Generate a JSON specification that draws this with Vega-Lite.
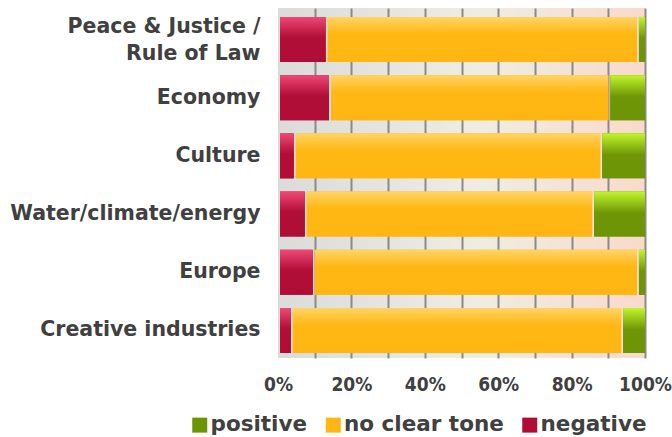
{
  "$schema": "https://vega.github.io/schema/vega-lite/v6.json",
  "width": 367,
  "height": 350,
  "autosize": {"type": "none"},
  "padding": {"left": 278, "top": 8, "right": 27, "bottom": 79},
  "background": "#ffffff",
  "config": {
    "view": {
      "stroke": null,
      "fill": {"gradient": "linear", "x1": 0, "y1": 0, "x2": 1, "y2": 0,
        "stops": [{"offset": 0, "color": "#dbdbdb"}, {"offset": 0.55, "color": "#efede3"}, {"offset": 1, "color": "#f9dacb"}]}
    },
    "axisY": {
      "labelFont": "DejaVu Sans", "labelFontWeight": "bold", "labelFontSize": 20.5,
      "labelColor": "#404040", "labelPadding": 18, "domain": false, "ticks": false,
      "grid": false, "labelLineHeight": 27, "labelLimit": 300
    },
    "axisX": {
      "labelFont": "DejaVu Sans Condensed", "labelFontWeight": "bold", "labelFontSize": 19,
      "labelColor": "#404040", "labelPadding": 17, "domain": false, "ticks": false,
      "grid": true, "gridColor": "#8a8a8a", "gridWidth": 2,
      "gridOpacity": {"condition": {"test": "datum.value == 0", "value": 0}, "value": 1},
      "values": [0, 20, 40, 60, 80, 100], "labelExpr": "datum.value + '%'",
      "labelFlush": false
    },
    "legend": {
      "labelFont": "DejaVu Sans", "labelFontWeight": "bold", "labelFontSize": 21.5,
      "labelColor": "#404040"
    }
  },
  "data": {
    "values": [
      {"category": "Peace & Justice / Rule of Law", "tone": "negative", "value": 13.0},
      {"category": "Peace & Justice / Rule of Law", "tone": "no clear tone", "value": 84.8},
      {"category": "Peace & Justice / Rule of Law", "tone": "positive", "value": 2.2},
      {"category": "Economy", "tone": "negative", "value": 13.9},
      {"category": "Economy", "tone": "no clear tone", "value": 76.1},
      {"category": "Economy", "tone": "positive", "value": 10.0},
      {"category": "Culture", "tone": "negative", "value": 4.3},
      {"category": "Culture", "tone": "no clear tone", "value": 83.5},
      {"category": "Culture", "tone": "positive", "value": 12.2},
      {"category": "Water/climate/energy", "tone": "negative", "value": 7.3},
      {"category": "Water/climate/energy", "tone": "no clear tone", "value": 78.3},
      {"category": "Water/climate/energy", "tone": "positive", "value": 14.4},
      {"category": "Europe", "tone": "negative", "value": 9.5},
      {"category": "Europe", "tone": "no clear tone", "value": 88.3},
      {"category": "Europe", "tone": "positive", "value": 2.2},
      {"category": "Creative industries", "tone": "negative", "value": 3.5},
      {"category": "Creative industries", "tone": "no clear tone", "value": 90.0},
      {"category": "Creative industries", "tone": "positive", "value": 6.5}
    ]
  },
  "transform": [
    {"stack": "value", "groupby": ["category"], "sort": [{"field": "tone", "order": "ascending"}], "as": ["x0", "x1"]}
  ],
  "encoding": {
    "y": {
      "field": "category", "type": "nominal", "title": null,
      "sort": ["Peace & Justice / Rule of Law", "Economy", "Culture", "Water/climate/energy", "Europe", "Creative industries"],
      "scale": {"paddingInner": 0.227, "paddingOuter": 0.12, "align": 0.64},
      "axis": {
        "labelExpr": "datum.value == 'Peace & Justice / Rule of Law' ? ['Peace & Justice /', 'Rule of Law\u00a0\u00a0\u00a0\u00a0\u00a0'] : datum.value",
        "labelOffset": {"condition": {"test": "datum.value == 'Peace & Justice / Rule of Law'", "value": -12.5}, "value": 0}
      }
    },
    "x": {"field": "x0", "type": "quantitative", "title": null, "scale": {"domain": [0, 100], "nice": false}},
    "x2": {"field": "x1"}
  },
  "layer": [
    {
      "mark": {"type": "bar", "xOffset": 2},
      "encoding": {
        "color": {
          "field": "tone", "type": "nominal",
          "scale": {"domain": ["positive", "no clear tone", "negative"], "range": ["#6c9405", "#ffb612", "#af0d36"]},
          "legend": {
            "title": null, "orient": "none", "direction": "horizontal", "legendX": -89, "legendY": 406,
            "symbolType": "square", "symbolSize": 225, "symbolStrokeWidth": 0, "symbolOpacity": 1,
            "labelOffset": 0, "columnPadding": 14.5
          }
        }
      }
    },
    {
      "transform": [{"filter": {"field": "tone", "equal": "negative"}}],
      "mark": {"type": "bar", "xOffset": 2, "fill": {"gradient": "linear", "x1": 0, "y1": 0, "x2": 0, "y2": 1,
        "stops": [{"offset": 0, "color": "#f04875"}, {"offset": 0.45, "color": "#b10e38"}, {"offset": 1, "color": "#af0d36"}]}}
    },
    {
      "transform": [{"filter": {"field": "tone", "equal": "no clear tone"}}],
      "mark": {"type": "bar", "xOffset": 2, "fill": {"gradient": "linear", "x1": 0, "y1": 0, "x2": 0, "y2": 1,
        "stops": [{"offset": 0, "color": "#ffd466"}, {"offset": 0.38, "color": "#ffb713"}, {"offset": 1, "color": "#ffb612"}]}}
    },
    {
      "transform": [{"filter": {"field": "tone", "equal": "positive"}}],
      "mark": {"type": "bar", "xOffset": 2, "fill": {"gradient": "linear", "x1": 0, "y1": 0, "x2": 0, "y2": 1,
        "stops": [{"offset": 0, "color": "#c2f52c"}, {"offset": 0.48, "color": "#6e9606"}, {"offset": 1, "color": "#6c9405"}]}}
    }
  ]
}
